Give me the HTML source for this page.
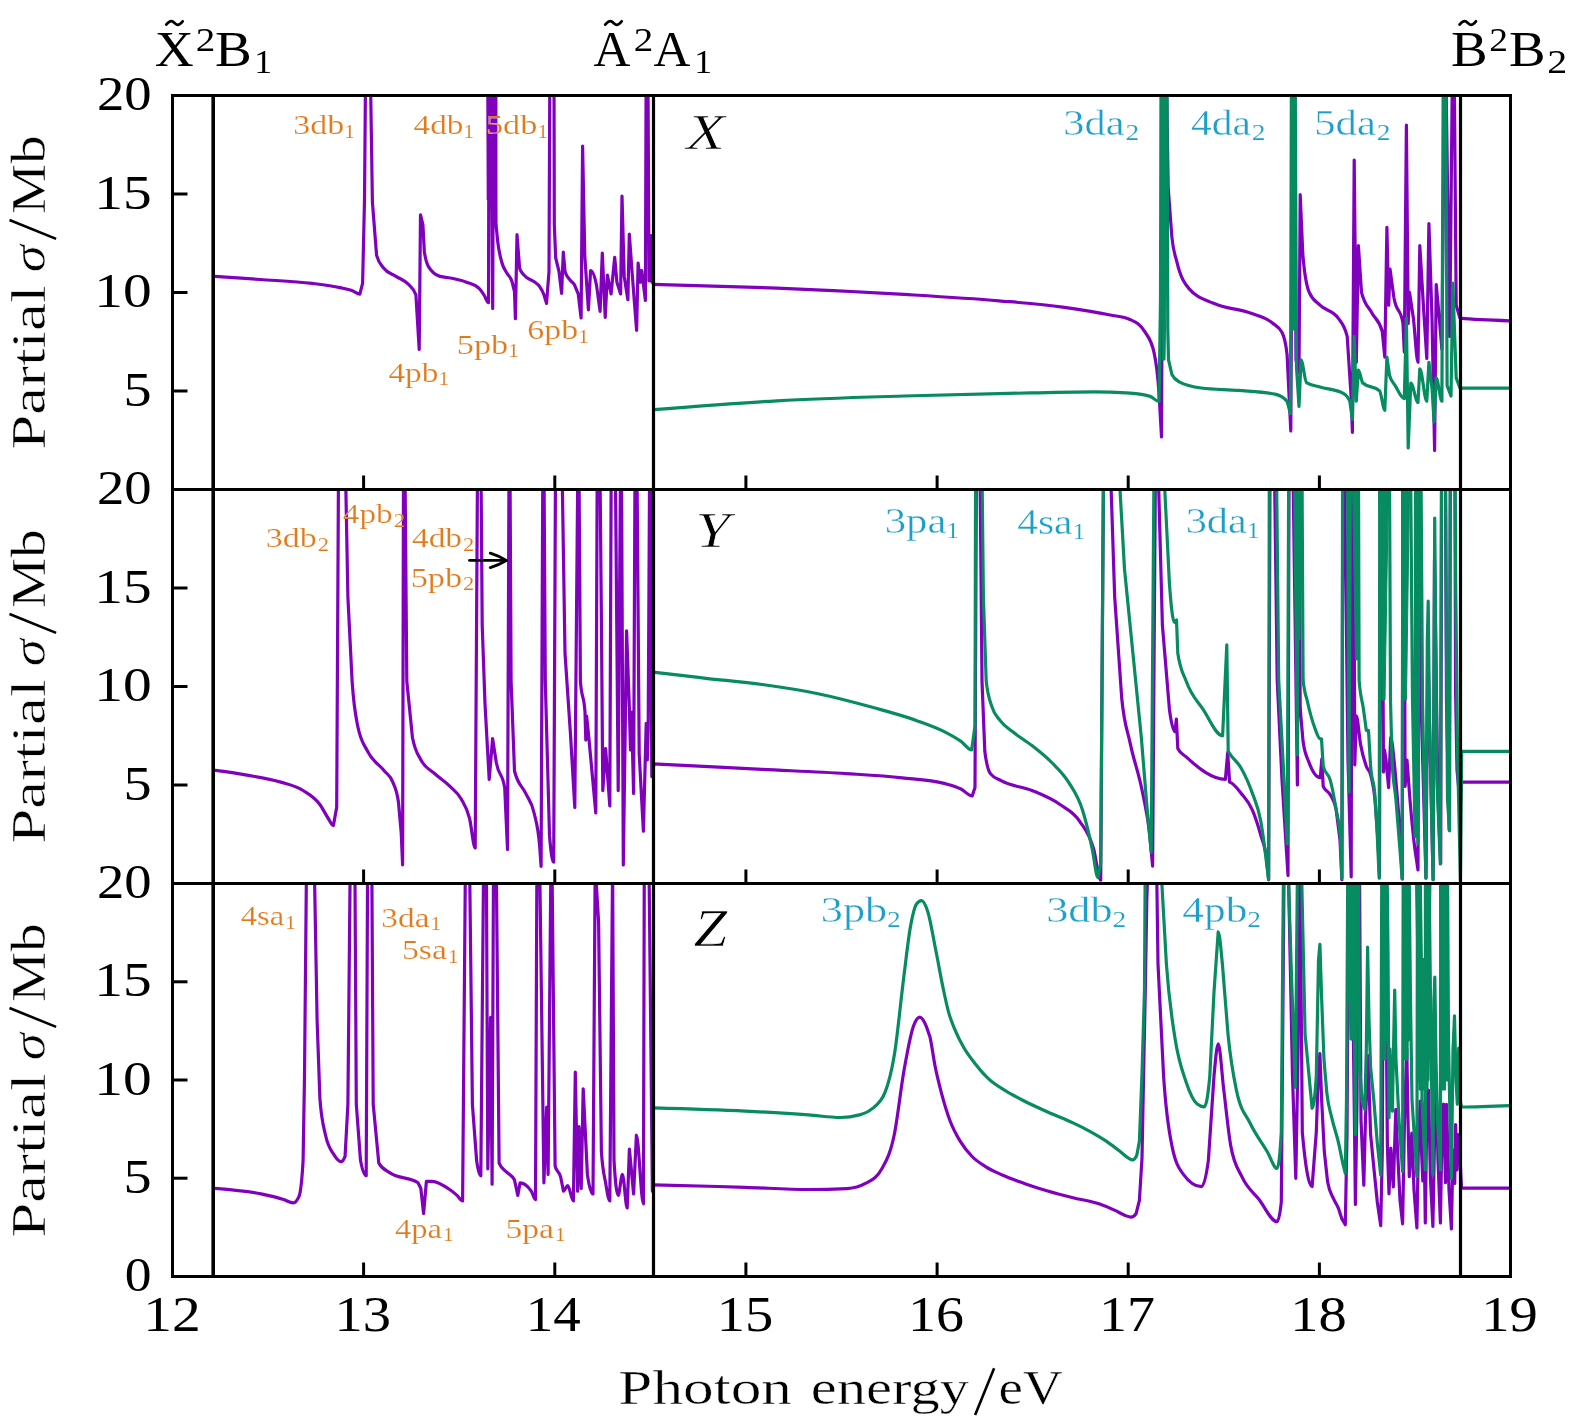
<!DOCTYPE html><html><head><meta charset="utf-8"><style>html,body{margin:0;padding:0;background:#fff;}svg{display:block;}svg{will-change:transform;}</style></head><body>
<svg width="1575" height="1427" viewBox="0 0 1575 1427" font-family="Liberation Serif, serif">
<rect width="1575" height="1427" fill="#fff"/>
<defs>
<clipPath id="c0"><rect x="172.5" y="95.5" width="1338.0" height="394.0"/></clipPath>
<clipPath id="c1"><rect x="172.5" y="489.5" width="1338.0" height="394.0"/></clipPath>
<clipPath id="c2"><rect x="172.5" y="883.5" width="1338.0" height="394.0"/></clipPath>
</defs>
<path d="M215.00 276.40C230.00 277.41 245.00 278.42 260.00 279.50C277.33 280.74 294.67 281.25 312.00 283.40C321.33 284.56 330.67 285.60 340.00 287.60C344.00 288.46 348.00 289.00 352.00 290.50C354.60 291.47 357.20 294.10 359.80 294.10L362.60 283.40L364.50 200.00L365.50 80.00C367.17 80.00 368.83 80.00 370.50 80.00L372.40 202.00L376.60 255.40C378.93 263.80 381.27 264.84 383.60 268.00C387.73 273.60 391.87 273.65 396.00 276.40C400.30 279.26 404.60 279.87 408.90 284.80C411.23 287.47 413.57 288.10 415.90 294.70L419.20 349.30L420.50 214.80L422.90 224.60L424.30 251.20C425.70 261.47 427.10 264.21 428.50 266.60C432.33 273.13 436.17 275.23 440.00 276.40C441.53 276.87 443.07 276.85 444.60 277.10C451.90 278.31 459.20 279.26 466.50 282.20C470.87 283.96 475.23 284.40 479.60 288.80C481.07 290.28 482.53 292.73 484.00 295.00C485.50 297.32 487.00 302.60 488.50 302.60L489.00 80.00L491.00 80.00L492.70 308.50L493.50 80.00L495.50 80.00L496.00 224.50L497.70 241.30C499.13 253.50 500.57 257.76 502.00 263.00C503.67 269.09 505.33 270.10 507.00 273.20C508.67 276.30 510.33 276.18 512.00 281.60L514.50 291.70L515.40 318.60L517.00 234.50L519.60 268.20C521.00 272.67 522.40 273.05 523.80 274.90C527.17 279.35 530.53 278.94 533.90 281.60C535.83 283.13 537.77 283.72 539.70 286.60C541.13 288.73 542.57 290.93 544.00 295.00L546.50 303.40L549.00 271.50L549.80 80.00C551.20 80.00 552.60 80.00 554.00 80.00L554.30 224.50L555.70 258.00L559.00 271.50L561.60 293.40L563.30 252.20L565.00 271.50C566.67 277.17 568.33 277.68 570.00 280.00C571.53 282.13 573.07 282.25 574.60 285.10L578.20 293.90L581.10 318.00L582.60 146.00L584.80 256.00L588.40 310.00L590.60 270.50C592.57 270.50 594.53 275.37 596.50 285.10L600.10 311.40L602.30 253.00L605.20 317.30L607.40 275.00L611.10 293.90L614.70 257.40L616.90 282.20L620.60 293.90L622.00 196.00L624.20 276.40L627.90 299.70L629.30 234.00L632.30 275.00L636.60 330.40L638.10 263.20L640.30 282.20L641.70 270.50L645.40 300.50L646.10 80.00L648.00 80.00L649.00 280.80L651.20 235.50L652.00 282.00L654.00 284.00" fill="none" stroke="#8000BE" stroke-width="3.2" stroke-linejoin="round" stroke-linecap="butt" clip-path="url(#c0)"/>
<polygon points="486.8,93.0 496.9,93.0 496.5,200.0 487.2,200.0" fill="#8000BE" stroke="#8000BE" stroke-width="1" clip-path="url(#c0)"/>
<path d="M653.00 284.30C694.33 285.37 735.67 286.45 777.00 288.10C819.33 289.79 861.67 291.87 904.00 294.40C935.67 296.29 967.33 298.07 999.00 300.80C1020.23 302.63 1041.47 304.18 1062.70 307.10C1078.57 309.28 1094.43 311.67 1110.30 315.00C1116.87 316.38 1123.43 316.50 1130.00 319.50C1135.03 321.80 1140.07 323.70 1145.10 332.10C1148.07 337.05 1151.03 338.83 1154.00 352.30C1155.67 359.87 1157.33 368.61 1159.00 392.70L1161.50 436.80L1163.00 80.00L1166.50 80.00L1168.20 188.10L1171.90 237.10C1173.53 252.94 1175.17 254.74 1176.80 261.60C1180.87 278.69 1184.93 283.74 1189.00 288.60C1197.20 298.40 1205.40 299.49 1213.60 303.30C1225.83 308.99 1238.07 308.45 1250.30 313.10C1257.67 315.90 1265.03 316.88 1272.40 323.00C1275.67 325.71 1278.93 326.27 1282.20 332.80C1283.83 336.07 1285.47 340.13 1287.10 354.80L1290.80 430.90L1292.70 80.00L1294.50 80.00L1296.00 360.00L1299.00 372.50L1300.20 194.70L1302.80 254.00C1304.87 279.20 1306.93 286.76 1309.00 291.80C1312.67 300.73 1316.33 301.43 1320.00 305.20C1326.07 311.44 1332.13 309.53 1338.20 318.20C1341.20 322.49 1344.20 324.27 1347.20 336.40L1351.10 396.00L1352.40 432.30L1354.20 160.00L1356.30 362.30L1358.40 245.60L1361.50 292.30C1364.97 306.10 1368.43 306.49 1371.90 313.00C1375.33 319.45 1378.77 319.07 1382.20 331.20L1384.80 357.10L1386.90 227.40L1388.70 305.20L1390.00 269.00L1393.90 297.50C1396.93 314.77 1399.97 306.13 1403.00 323.40L1404.30 352.00L1406.40 125.00L1408.20 323.40L1409.50 292.30L1413.40 318.20C1414.93 330.46 1416.47 362.30 1418.00 362.30L1419.80 245.60L1423.70 310.40L1426.80 358.40L1428.90 223.60L1432.00 318.20L1434.60 450.50L1436.20 284.50L1439.30 318.20L1441.90 349.30L1444.50 80.00L1446.00 80.00L1449.70 336.40L1452.30 80.00L1454.30 80.00L1456.20 305.20L1460.00 318.20C1476.43 319.93 1492.87 320.37 1509.30 320.80" fill="none" stroke="#8000BE" stroke-width="3.2" stroke-linejoin="round" stroke-linecap="butt" clip-path="url(#c0)"/>
<path d="M653.00 409.70C694.33 406.39 735.67 403.07 777.00 400.80C819.33 398.47 861.67 397.32 904.00 396.00C946.33 394.68 988.67 393.69 1031.00 392.90C1052.13 392.51 1073.27 391.90 1094.40 391.90C1105.00 391.90 1115.60 392.23 1126.20 392.90C1134.20 393.40 1142.20 394.07 1150.20 396.40C1153.13 397.26 1156.07 401.50 1159.00 401.50L1160.50 300.00L1161.00 80.00C1163.00 80.00 1165.00 80.00 1167.00 80.00L1167.80 330.00L1168.50 359.70L1171.90 374.50C1174.33 379.37 1176.77 380.43 1179.20 381.80C1186.57 385.93 1193.93 387.04 1201.30 388.00C1213.57 389.60 1225.83 389.38 1238.10 390.40C1250.37 391.42 1262.63 391.63 1274.90 394.10C1278.97 394.92 1283.03 396.53 1287.10 401.40L1290.50 413.70L1291.40 80.00L1295.20 80.00L1296.50 367.40L1299.00 406.50L1301.00 359.90C1302.83 359.90 1304.67 381.40 1306.50 382.60C1311.00 385.53 1315.50 385.62 1320.00 387.00C1327.77 389.39 1335.53 389.13 1343.30 393.40C1345.47 394.59 1347.63 396.00 1349.80 401.20L1352.40 419.40L1354.20 336.40L1356.30 401.20L1358.40 370.10C1359.87 370.10 1361.33 381.64 1362.80 383.00C1368.40 388.20 1374.00 385.60 1379.60 390.80C1381.33 392.41 1383.07 410.30 1384.80 410.30L1386.90 357.10L1389.50 375.30C1391.40 382.17 1393.30 382.44 1395.20 385.60C1398.23 390.64 1401.27 398.60 1404.30 398.60L1406.40 318.20L1408.20 447.90L1410.80 383.00C1413.20 383.00 1415.60 402.50 1418.00 402.50L1419.80 368.80C1422.13 368.80 1424.47 401.20 1426.80 401.20L1428.90 362.30L1432.00 388.20L1434.10 422.00L1436.20 377.90C1438.10 377.90 1440.00 401.20 1441.90 401.20L1443.20 80.00L1445.80 80.00L1447.10 385.60L1451.00 396.00L1452.80 283.20L1456.20 377.90L1460.00 388.20C1476.43 388.20 1492.87 388.20 1509.30 388.20" fill="none" stroke="#078B61" stroke-width="3.2" stroke-linejoin="round" stroke-linecap="butt" clip-path="url(#c0)"/>
<polygon points="1161.0,93.0 1167.3,93.0 1166.8,250.0 1165.0,360.0 1162.5,360.0 1161.3,250.0" fill="#078B61" stroke="#078B61" stroke-width="1" clip-path="url(#c0)"/>
<polygon points="1290.8,93.0 1296.0,93.0 1295.5,330.0 1291.5,330.0" fill="#078B61" stroke="#078B61" stroke-width="1" clip-path="url(#c0)"/>
<path d="M214.80 770.30C225.53 771.75 236.27 773.19 247.00 775.10C258.23 777.10 269.47 778.64 280.70 782.10C288.17 784.40 295.63 785.74 303.10 790.50C308.70 794.07 314.30 796.72 319.90 804.50C322.70 808.39 325.50 814.35 328.30 818.50C330.00 821.02 331.70 825.50 333.40 825.50L336.70 807.30L338.50 470.00C340.83 470.00 343.17 470.00 345.50 470.00L347.90 597.10L352.10 681.20C353.97 708.96 355.83 716.46 357.70 726.00C361.00 742.87 364.30 744.57 367.60 751.30C373.20 762.73 378.80 763.74 384.40 770.90C387.20 774.48 390.00 774.73 392.80 782.10C394.67 787.02 396.53 788.63 398.40 801.70L401.20 832.50L402.60 864.80L403.50 470.00L405.00 470.00L406.80 681.20L412.40 737.20C415.20 752.20 418.00 754.10 420.80 759.70C425.47 769.03 430.13 769.40 434.80 773.70C439.87 778.37 444.93 781.32 450.00 786.40C453.73 790.14 457.47 792.22 461.20 799.00C464.00 804.08 466.80 807.17 469.60 818.60C471.47 826.22 473.33 848.00 475.20 848.00L477.50 470.00L481.00 470.00L482.20 625.20L485.00 703.70L489.20 779.40L492.60 738.70L496.30 762.50C499.10 777.58 501.90 770.93 504.70 787.80L507.50 849.50L509.00 470.00L510.00 470.00L511.10 681.20L514.50 771.00C518.23 785.93 521.97 785.22 525.70 793.40C528.50 799.53 531.30 800.31 534.10 813.00C535.97 821.46 537.83 824.20 539.70 846.60L541.10 866.30L542.80 470.00L544.00 470.00L545.30 681.20L549.50 835.40C550.90 853.20 552.30 862.10 553.70 862.10L555.50 470.00C557.70 470.00 559.90 470.00 562.10 470.00L565.00 653.20L570.50 734.50L574.80 807.40L577.80 470.00L579.00 470.00L580.40 681.20C581.93 701.73 583.47 691.47 585.00 712.00L585.80 740.00L586.60 716.00L588.80 737.30L595.80 813.00L597.20 470.00L600.00 470.00L601.40 619.60L602.80 790.60L605.60 748.50L609.80 806.00L611.20 470.00C612.60 470.00 614.00 470.00 615.40 470.00L618.20 790.60L620.50 470.00L621.50 470.00L623.30 864.90L626.60 630.80L629.40 709.30L630.50 750.00L631.50 712.00L633.60 793.40L635.00 470.00L637.00 470.00L639.20 754.10L643.40 831.20L646.20 723.30L647.30 760.00L648.20 728.00L649.60 470.00L650.50 470.00L651.80 776.60L654.00 764.00" fill="none" stroke="#8000BE" stroke-width="3.2" stroke-linejoin="round" stroke-linecap="butt" clip-path="url(#c1)"/>
<path d="M653.00 763.80C689.37 765.68 725.73 767.56 762.10 769.40C790.10 770.82 818.10 771.78 846.10 773.60C864.80 774.81 883.50 775.77 902.20 777.80C916.20 779.32 930.20 779.67 944.20 783.40C949.80 784.89 955.40 786.15 961.00 789.00C964.73 790.90 968.47 796.00 972.20 796.00L975.00 787.60L976.40 470.00L980.00 470.00L982.00 681.10L984.80 751.20C986.67 766.13 988.53 771.15 990.40 773.60C994.00 778.33 997.60 778.65 1001.20 780.70C1011.47 786.55 1021.73 786.26 1032.00 790.50C1041.33 794.36 1050.67 797.90 1060.00 804.50C1066.57 809.14 1073.13 811.30 1079.70 821.30C1084.37 828.41 1089.03 832.46 1093.70 849.30C1096.03 857.72 1098.37 880.20 1100.70 880.20L1103.50 470.00C1105.83 470.00 1108.17 470.00 1110.50 470.00L1114.70 597.10L1121.70 698.00C1124.50 726.80 1127.30 729.35 1130.10 742.80C1134.30 762.97 1138.50 771.34 1142.70 793.30C1145.07 805.67 1147.43 812.61 1149.80 835.30L1152.60 866.20L1155.40 470.00L1158.20 470.00L1162.40 625.10L1169.40 709.20C1171.27 723.32 1173.13 731.60 1175.00 731.60L1176.40 719.00L1177.80 748.50C1180.60 754.10 1183.40 754.31 1186.20 756.90C1199.27 768.98 1212.33 779.30 1225.40 779.30L1227.70 752.70L1229.60 782.10L1230.00 782.20C1233.73 783.23 1237.47 788.73 1241.20 793.40C1244.93 798.07 1248.67 801.40 1252.40 810.20C1255.20 816.80 1258.00 825.29 1260.80 835.40C1262.67 842.14 1264.53 842.90 1266.40 857.90L1268.60 879.70L1270.00 470.00C1271.50 470.00 1273.00 470.00 1274.50 470.00L1277.20 680.00L1282.00 780.00L1288.00 875.40L1289.00 470.00C1290.33 470.00 1291.67 470.00 1293.00 470.00L1297.40 784.90L1298.50 470.00L1299.50 600.00L1300.20 708.70L1303.10 741.80C1305.00 755.20 1306.90 756.68 1308.80 761.90C1312.63 772.43 1316.47 777.70 1320.30 777.70L1321.80 759.00L1323.20 786.30C1325.60 792.03 1328.00 790.25 1330.40 794.90C1332.30 798.58 1334.20 799.70 1336.10 809.30L1340.00 840.00L1341.90 879.70L1342.80 470.00L1344.50 470.00L1348.00 760.00L1351.20 876.80L1352.00 470.00L1353.50 470.00L1354.80 764.80L1356.30 715.90C1357.73 715.90 1359.17 736.81 1360.60 744.60C1362.50 754.92 1364.40 760.94 1366.30 766.20C1367.73 770.17 1369.17 769.29 1370.60 774.80C1372.07 780.44 1373.53 784.97 1375.00 800.00L1378.00 840.00L1379.50 877.00L1380.50 470.00L1382.00 470.00L1383.50 772.00L1384.50 750.00L1386.00 760.00L1388.60 787.70L1390.70 737.50C1392.13 737.50 1393.57 756.22 1395.00 770.00L1400.00 830.00L1402.20 879.00L1403.00 470.00L1404.00 470.00L1405.10 786.30L1407.00 760.00L1410.00 800.00C1411.67 820.14 1413.33 836.81 1415.00 850.00L1418.00 870.00L1419.00 470.00L1421.00 700.00L1426.00 878.00L1427.80 640.00L1429.00 700.00L1433.10 879.70L1434.50 560.00L1438.00 800.00L1440.70 863.50L1441.60 470.00L1445.40 470.00L1446.50 700.00L1449.10 829.80L1450.40 470.00C1451.90 470.00 1453.40 470.00 1454.90 470.00L1455.60 692.50L1457.00 770.00L1460.30 804.60L1461.70 782.20C1477.60 782.20 1493.50 782.20 1509.40 782.20" fill="none" stroke="#8000BE" stroke-width="3.2" stroke-linejoin="round" stroke-linecap="butt" clip-path="url(#c1)"/>
<path d="M653.00 672.20C670.67 674.25 688.33 676.31 706.00 678.30C724.70 680.41 743.40 681.93 762.10 684.50C780.77 687.07 799.43 689.82 818.10 693.70C836.80 697.59 855.50 702.58 874.20 707.80C888.20 711.71 902.20 715.36 916.20 720.40C925.53 723.76 934.87 726.80 944.20 731.60C949.80 734.48 955.40 737.44 961.00 741.40C964.57 743.92 968.13 749.80 971.70 749.80L975.00 726.00L975.60 470.00C977.73 470.00 979.87 470.00 982.00 470.00L983.40 597.00L986.20 681.10C988.07 697.97 989.93 700.10 991.80 706.40C994.53 715.63 997.27 716.61 1000.00 720.40C1004.13 726.13 1008.27 728.17 1012.40 731.60C1018.93 737.02 1025.47 740.47 1032.00 745.60C1038.57 750.76 1045.13 755.77 1051.70 762.50C1057.30 768.24 1062.90 773.02 1068.50 782.10C1073.17 789.67 1077.83 795.28 1082.50 810.10C1085.77 820.48 1089.03 834.12 1092.30 849.30C1094.17 857.98 1096.03 877.40 1097.90 877.40L1100.70 863.40L1103.50 470.00L1105.00 470.00C1109.63 470.00 1114.27 470.00 1118.90 470.00L1124.50 569.10L1132.90 653.20L1141.30 737.20L1147.00 807.30L1151.20 852.20L1154.00 470.00C1157.27 470.00 1160.53 470.00 1163.80 470.00L1169.40 583.10C1171.07 605.88 1172.73 622.30 1174.40 622.30L1176.50 620.00L1177.80 653.20C1180.60 671.87 1183.40 673.42 1186.20 681.20C1191.80 696.76 1197.40 700.67 1203.00 709.20C1209.53 719.16 1216.07 735.80 1222.60 735.80L1226.80 644.80L1228.20 751.30L1230.00 754.10C1233.73 759.75 1237.47 761.65 1241.20 768.20C1244.93 774.75 1248.67 782.69 1252.40 793.40C1255.20 801.43 1258.00 805.58 1260.80 821.40C1262.20 829.31 1263.60 839.38 1265.00 850.00L1268.60 879.70L1269.30 470.00C1271.70 470.00 1274.10 470.00 1276.50 470.00L1278.70 680.00L1283.00 760.00L1287.30 843.80L1288.70 470.00C1290.63 470.00 1292.57 470.00 1294.50 470.00L1297.40 754.70L1298.20 470.00L1302.00 470.00L1303.10 680.00C1304.53 694.33 1305.97 695.09 1307.40 701.50C1309.80 712.24 1312.20 720.88 1314.60 727.40C1316.50 732.56 1318.40 738.90 1320.30 738.90L1321.50 738.90L1323.20 766.20C1325.60 775.80 1328.00 771.73 1330.40 780.60C1332.30 787.62 1334.20 797.96 1336.10 809.30C1337.53 817.86 1338.97 818.87 1340.40 838.00L1341.90 878.20L1342.60 470.00C1344.23 470.00 1345.87 470.00 1347.50 470.00L1349.00 792.00L1350.40 470.00C1353.10 470.00 1355.80 470.00 1358.50 470.00L1359.10 680.00C1360.53 699.13 1361.97 698.47 1363.40 708.70L1366.30 730.30L1368.50 730.30L1370.60 766.20C1372.03 785.40 1373.47 775.80 1374.90 795.00L1377.00 830.00L1379.20 878.20L1379.80 470.00C1383.03 470.00 1386.27 470.00 1389.50 470.00L1390.50 700.00L1392.00 760.00C1393.33 786.67 1394.67 785.00 1396.00 800.00L1400.00 850.00L1402.20 879.00L1402.80 470.00C1405.40 470.00 1408.00 470.00 1410.60 470.00L1412.50 700.00L1415.10 836.60L1415.80 470.00L1416.50 470.00L1418.00 843.80L1419.00 470.00L1421.00 470.00L1422.50 700.00L1425.90 878.20L1427.30 640.00L1428.20 601.00L1429.50 720.00L1433.10 879.70L1434.70 518.00L1437.00 780.00L1440.30 863.90L1441.50 470.00C1442.83 470.00 1444.17 470.00 1445.50 470.00L1446.50 650.00L1447.50 800.00L1449.60 830.80L1450.30 470.00C1451.87 470.00 1453.43 470.00 1455.00 470.00L1455.80 595.00L1457.50 750.00L1460.40 880.00L1461.70 751.30C1477.60 751.30 1493.50 751.30 1509.40 751.30" fill="none" stroke="#078B61" stroke-width="3.2" stroke-linejoin="round" stroke-linecap="butt" clip-path="url(#c1)"/>
<polygon points="1295.5,487.0 1301.5,487.0 1300.0,640.0 1298.0,640.0" fill="#078B61" stroke="#078B61" stroke-width="1" clip-path="url(#c1)"/>
<polygon points="1352.5,487.0 1359.5,487.0 1357.5,660.0 1355.5,660.0" fill="#078B61" stroke="#078B61" stroke-width="1" clip-path="url(#c1)"/>
<polygon points="1378.5,487.0 1388.5,487.0 1385.0,700.0 1382.0,700.0" fill="#078B61" stroke="#078B61" stroke-width="1" clip-path="url(#c1)"/>
<polygon points="1401.5,487.0 1409.5,487.0 1406.5,700.0 1404.0,700.0" fill="#078B61" stroke="#078B61" stroke-width="1" clip-path="url(#c1)"/>
<polygon points="1414.5,487.0 1419.5,487.0 1417.8,660.0 1416.2,660.0" fill="#078B61" stroke="#078B61" stroke-width="1" clip-path="url(#c1)"/>
<path d="M214.80 1188.30C230.23 1189.50 245.67 1190.69 261.10 1193.90C268.57 1195.45 276.03 1197.13 283.50 1199.50C286.77 1200.54 290.03 1202.90 293.30 1202.90C295.17 1202.90 297.03 1200.83 298.90 1196.70C300.30 1193.60 301.70 1184.57 303.10 1160.30L304.50 1076.20L306.50 865.00C309.10 865.00 311.70 865.00 314.30 865.00L317.10 1020.10L319.90 1098.60C321.77 1122.87 323.63 1126.24 325.50 1135.00C328.30 1148.13 331.10 1150.19 333.90 1154.70C336.23 1158.46 338.57 1161.70 340.90 1161.70C342.30 1161.70 343.70 1159.83 345.10 1156.10L347.90 1104.20L350.20 865.00C351.77 865.00 353.33 865.00 354.90 865.00L356.30 1104.20L360.50 1160.30C362.40 1170.57 364.30 1175.70 366.20 1175.70L367.60 865.00C369.00 865.00 370.40 865.00 371.80 865.00L373.20 1104.20L378.80 1163.10C382.53 1169.63 386.27 1170.29 390.00 1172.90C399.33 1179.43 408.67 1176.17 418.00 1182.70L420.80 1188.30L423.60 1213.50L426.40 1181.30C428.27 1181.30 430.13 1181.30 432.00 1181.30C438.00 1181.30 444.00 1185.55 450.00 1189.80C452.33 1191.45 454.67 1193.27 457.00 1195.40C458.87 1197.10 460.73 1201.00 462.60 1201.00L465.40 865.00C466.80 865.00 468.20 865.00 469.60 865.00L472.40 1104.30L476.60 1160.30C478.00 1170.63 479.40 1175.80 480.80 1175.80L483.60 865.00L486.40 865.00L487.80 1168.80L490.60 1017.40L492.10 1184.20L493.50 865.00L496.30 865.00L499.10 1163.20C501.43 1168.80 503.77 1169.01 506.10 1171.60C508.90 1174.71 511.70 1174.40 514.50 1180.00L517.80 1195.40L520.10 1182.80C523.83 1182.80 527.57 1185.60 531.30 1191.20C532.70 1193.30 534.10 1199.60 535.50 1199.60L536.90 865.00L539.70 865.00L543.90 1182.80L546.70 1107.10L548.10 1174.40L550.90 865.00L552.00 865.00L555.10 1166.00C556.97 1173.47 558.83 1169.73 560.70 1177.20L563.50 1191.20C564.90 1191.20 566.30 1185.60 567.70 1185.60C569.60 1185.60 571.50 1201.00 573.40 1201.00L575.30 1072.00L577.60 1191.20L579.00 1126.70L581.20 1188.40L583.20 1088.90L587.40 1174.40C589.27 1187.47 591.13 1194.00 593.00 1194.00L595.20 865.00L598.60 922.00L601.40 1151.90C602.80 1172.50 604.20 1174.62 605.60 1182.80C607.00 1190.98 608.40 1201.00 609.80 1201.00L612.60 865.00L614.00 1160.30C615.40 1183.70 616.80 1195.40 618.20 1195.40C619.60 1195.40 621.00 1174.40 622.40 1174.40C624.00 1174.40 625.60 1208.00 627.20 1208.00L629.40 1149.10L633.60 1194.00L636.40 1135.10C638.73 1135.10 641.07 1203.80 643.40 1203.80L644.30 865.00C645.87 865.00 647.43 865.00 649.00 865.00L652.40 1191.20L654.00 1184.50" fill="none" stroke="#8000BE" stroke-width="3.2" stroke-linejoin="round" stroke-linecap="butt" clip-path="url(#c2)"/>
<path d="M653.00 1184.80C683.73 1185.56 714.47 1186.33 745.20 1187.30C766.37 1187.97 787.53 1189.50 808.70 1189.50C821.40 1189.50 834.10 1189.20 846.80 1188.60C853.17 1188.30 859.53 1186.80 865.90 1183.20C871.17 1180.22 876.43 1178.43 881.70 1168.90C885.93 1161.24 890.17 1154.96 894.40 1134.00C897.60 1118.16 900.80 1088.56 904.00 1070.50C907.17 1052.63 910.33 1034.60 913.50 1026.00C915.60 1020.29 917.70 1017.10 919.80 1017.10C921.93 1017.10 924.07 1020.98 926.20 1026.00L930.00 1037.10C931.67 1043.98 933.33 1057.24 935.00 1065.70C937.27 1077.21 939.53 1085.78 941.80 1094.30C944.60 1104.82 947.40 1113.76 950.20 1121.20C953.57 1130.14 956.93 1135.79 960.30 1141.40C964.23 1147.96 968.17 1152.44 972.10 1156.50C976.57 1161.12 981.03 1163.74 985.50 1166.60C991.10 1170.19 996.70 1172.48 1002.30 1175.00C1009.60 1178.28 1016.90 1180.81 1024.20 1183.40C1032.03 1186.18 1039.87 1188.69 1047.70 1191.00C1056.13 1193.49 1064.57 1195.60 1073.00 1197.70C1081.40 1199.80 1089.80 1200.77 1098.20 1203.60C1103.80 1205.48 1109.40 1207.82 1115.00 1210.40C1118.37 1211.95 1121.73 1214.17 1125.10 1215.40C1127.07 1216.12 1129.03 1217.10 1131.00 1217.10C1132.70 1217.10 1134.40 1215.97 1136.10 1213.70L1139.40 1200.30L1142.00 1158.20L1143.60 1074.10L1145.30 990.00L1146.80 900.00L1148.00 865.00C1150.87 865.00 1153.73 865.00 1156.60 865.00L1158.00 964.00L1163.60 1076.10C1166.40 1119.06 1169.20 1132.10 1172.00 1146.10C1175.73 1164.77 1179.47 1168.93 1183.20 1174.10C1189.27 1182.50 1195.33 1186.70 1201.40 1186.70C1203.73 1186.70 1206.07 1177.83 1208.40 1160.10L1214.00 1076.10C1215.40 1060.97 1216.80 1043.90 1218.20 1043.90C1220.07 1043.90 1221.93 1074.91 1223.80 1090.10C1226.13 1109.09 1228.47 1133.27 1230.80 1146.10C1234.53 1166.63 1238.27 1168.75 1242.00 1176.90C1247.63 1189.19 1253.27 1192.09 1258.90 1199.30C1264.97 1207.06 1271.03 1221.70 1277.10 1221.70C1278.50 1221.70 1279.90 1215.17 1281.30 1202.10L1284.10 865.00C1285.50 865.00 1286.90 865.00 1288.30 865.00L1292.50 1076.10L1295.80 1178.30L1298.10 1048.10L1299.00 865.00L1300.00 865.00L1302.30 1132.10C1305.57 1168.50 1308.83 1186.70 1312.10 1186.70L1316.30 1132.10L1318.50 1070.00L1319.90 1053.70L1321.70 1101.00L1324.30 1151.50L1327.60 1181.80C1329.57 1193.07 1331.53 1194.00 1333.50 1198.70C1335.20 1202.76 1336.90 1204.32 1338.60 1208.80L1341.90 1218.90L1345.30 1224.70L1347.00 1134.70L1348.70 865.00L1351.20 865.00L1354.60 1134.70L1355.40 1204.50L1357.00 1100.00L1358.00 865.00L1359.50 865.00L1361.00 1120.00L1363.80 1185.20L1365.50 1117.80L1368.00 1055.60L1370.60 1134.70L1373.90 1168.40L1377.30 1202.00L1380.70 1225.60L1382.30 1151.50L1383.50 865.00L1385.00 865.00L1387.40 1146.50L1389.00 1193.60L1390.80 1148.10L1393.30 1186.90L1395.80 1109.40L1398.00 1160.00L1400.00 1200.00L1402.60 1223.80L1404.50 1120.00L1406.80 1048.80L1408.00 1120.00L1409.30 1176.70L1411.80 1133.00L1414.00 1190.00L1416.90 1228.00L1418.50 1140.00L1420.20 1101.00L1421.50 1150.00L1422.80 1180.90L1423.80 1120.00L1425.30 1223.00L1427.00 1100.00L1428.50 1090.00L1430.50 1180.00L1432.90 1226.30L1434.50 1140.00L1436.20 1087.50L1438.00 1160.00L1440.40 1223.00L1442.00 1130.00L1443.50 1104.00L1445.50 1182.60L1446.50 1104.30L1449.00 1190.00L1451.40 1228.80L1453.00 1150.00L1454.70 1183.40L1455.60 1124.50L1457.00 1170.00L1458.00 1134.60L1460.10 1160.00L1461.50 1188.20C1477.67 1188.20 1493.83 1188.20 1510.00 1188.20" fill="none" stroke="#8000BE" stroke-width="3.2" stroke-linejoin="round" stroke-linecap="butt" clip-path="url(#c2)"/>
<path d="M653.00 1107.90C683.73 1108.74 714.47 1109.58 745.20 1111.10C766.37 1112.15 787.53 1113.32 808.70 1114.90C819.30 1115.69 829.90 1117.50 840.50 1117.50C846.83 1117.50 853.17 1116.63 859.50 1114.90C863.73 1113.74 867.97 1112.30 872.20 1108.60C876.43 1104.90 880.67 1103.30 884.90 1092.70C888.07 1084.77 891.23 1074.01 894.40 1054.60C897.60 1034.99 900.80 1000.28 904.00 975.20C906.10 958.74 908.20 939.47 910.30 927.60C912.43 915.54 914.57 906.70 916.70 903.80C918.27 901.67 919.83 900.60 921.40 900.60C923.53 900.60 925.67 905.05 927.80 911.70C930.43 919.91 933.07 936.66 935.70 949.80C938.30 962.77 940.90 977.83 943.50 990.00C945.17 997.80 946.83 1005.75 948.50 1011.90C950.73 1020.14 952.97 1024.99 955.20 1030.40C958.00 1037.19 960.80 1042.27 963.60 1047.20C967.53 1054.12 971.47 1058.95 975.40 1064.00C979.90 1069.78 984.40 1074.99 988.90 1079.20C994.50 1084.43 1000.10 1087.40 1005.70 1090.90C1011.87 1094.75 1018.03 1097.84 1024.20 1101.00C1032.03 1105.01 1039.87 1108.47 1047.70 1112.00C1056.13 1115.80 1064.57 1118.92 1073.00 1122.90C1078.60 1125.55 1084.20 1128.22 1089.80 1131.30C1095.40 1134.38 1101.00 1137.58 1106.60 1141.40C1111.10 1144.47 1115.60 1148.00 1120.10 1151.50C1122.90 1153.68 1125.70 1156.70 1128.50 1158.20C1129.90 1158.95 1131.30 1159.90 1132.70 1159.90C1134.10 1159.90 1135.50 1158.20 1136.90 1154.80L1139.40 1141.40L1142.00 1074.10L1144.50 990.00L1145.20 865.00C1150.40 865.00 1155.60 865.00 1160.80 865.00L1166.40 964.00C1169.20 1003.42 1172.00 1018.21 1174.80 1036.90C1178.53 1061.81 1182.27 1070.50 1186.00 1081.70C1189.73 1092.90 1193.47 1101.11 1197.20 1104.10C1199.53 1105.97 1201.87 1106.90 1204.20 1106.90C1206.07 1106.90 1207.93 1096.63 1209.80 1076.10L1214.00 992.00L1218.20 931.80C1219.60 931.80 1221.00 950.36 1222.40 964.00L1228.00 1034.10C1230.80 1062.60 1233.60 1076.66 1236.40 1090.10C1241.07 1112.50 1245.73 1114.07 1250.40 1123.70C1256.03 1135.32 1261.67 1142.16 1267.30 1151.70C1270.57 1157.23 1273.83 1168.50 1277.10 1168.50C1278.50 1168.50 1279.90 1156.37 1281.30 1132.10L1283.50 865.00C1285.00 865.00 1286.50 865.00 1288.00 865.00L1291.10 964.00L1295.30 1087.30L1297.50 865.00L1301.40 865.00L1305.10 1034.10L1312.10 1108.30C1313.50 1108.30 1314.90 1097.57 1316.30 1076.10L1318.50 960.00L1319.90 944.40L1321.70 1000.00L1324.00 1060.00L1326.80 1092.60C1328.47 1108.05 1330.13 1110.33 1331.80 1117.80C1334.07 1127.96 1336.33 1133.14 1338.60 1143.10C1340.00 1149.25 1341.40 1157.24 1342.80 1163.30L1345.30 1173.40L1346.50 1100.00L1347.80 865.00L1349.50 1000.00L1350.50 865.00L1352.00 1030.00L1353.00 865.00L1355.40 1134.70L1356.30 865.00L1358.50 865.00L1359.60 1067.30L1362.10 1101.00L1364.70 1109.40L1366.30 1050.50L1367.60 947.20L1369.00 1020.00L1370.60 1067.30L1373.90 1101.00L1377.30 1143.10L1380.70 1175.10L1381.80 865.00L1383.50 1040.00L1384.50 865.00L1386.00 1040.00L1387.00 865.00L1388.00 950.00L1389.00 1117.80L1389.90 1048.80L1392.40 1111.10L1393.50 1050.00L1394.70 990.00L1396.00 1060.00L1399.00 1120.00L1402.60 1171.60L1403.20 865.00L1405.00 1040.00L1406.00 865.00L1408.00 1040.00L1409.00 865.00L1410.50 1000.00L1412.00 1100.00L1416.90 1176.70L1417.50 865.00L1419.00 1080.00L1420.00 865.00L1421.30 958.00L1422.00 1100.00L1425.30 1170.00L1425.80 865.00L1428.00 1080.00L1429.00 865.00L1430.50 1000.00L1432.90 1175.00L1434.00 1000.00L1434.80 977.00L1436.00 1060.00L1437.50 1120.00L1440.40 1170.00L1440.80 865.00L1443.00 1080.00L1444.00 865.00L1446.50 1080.00L1447.50 865.00L1448.50 1040.00L1450.00 1120.00L1451.40 1178.40L1453.00 1050.00L1454.50 1015.90L1456.00 1080.00L1457.30 1104.20L1458.70 1048.10L1460.00 1100.00L1461.50 1107.00C1477.83 1107.00 1494.17 1106.30 1510.50 1105.60" fill="none" stroke="#078B61" stroke-width="3.2" stroke-linejoin="round" stroke-linecap="butt" clip-path="url(#c2)"/>
<polygon points="1347.0,881.0 1360.0,881.0 1357.0,1040.0 1350.0,1040.0" fill="#078B61" stroke="#078B61" stroke-width="1" clip-path="url(#c2)"/>
<polygon points="1381.3,881.0 1387.8,881.0 1386.0,1060.0 1383.0,1060.0" fill="#078B61" stroke="#078B61" stroke-width="1" clip-path="url(#c2)"/>
<polygon points="1402.4,881.0 1410.1,881.0 1408.0,1060.0 1404.5,1060.0" fill="#078B61" stroke="#078B61" stroke-width="1" clip-path="url(#c2)"/>
<polygon points="1415.5,881.0 1421.3,881.0 1421.3,958.6 1424.3,958.6 1424.3,881.0 1431.0,881.0 1428.0,1090.0 1419.0,1090.0" fill="#078B61" stroke="#078B61" stroke-width="1" clip-path="url(#c2)"/>
<polygon points="1439.4,881.0 1447.9,881.0 1445.5,1090.0 1441.5,1090.0" fill="#078B61" stroke="#078B61" stroke-width="1" clip-path="url(#c2)"/>
<line x1="213.2" y1="95.5" x2="213.2" y2="1276.5" stroke="#000" stroke-width="3.6"/>
<line x1="653.5" y1="95.5" x2="653.5" y2="1276.5" stroke="#000" stroke-width="3.2"/>
<line x1="1460.5" y1="95.5" x2="1460.5" y2="1276.5" stroke="#000" stroke-width="3.2"/>
<rect x="172.5" y="95.5" width="1338.0" height="1181.0" fill="none" stroke="#000" stroke-width="3"/>
<line x1="171.0" y1="489.5" x2="1512.0" y2="489.5" stroke="#000" stroke-width="3.2"/>
<line x1="171.0" y1="883.5" x2="1512.0" y2="883.5" stroke="#000" stroke-width="3.2"/>
<line x1="363.6" y1="489.5" x2="363.6" y2="475.5" stroke="#000" stroke-width="3"/>
<line x1="554.8" y1="489.5" x2="554.8" y2="475.5" stroke="#000" stroke-width="3"/>
<line x1="745.9" y1="489.5" x2="745.9" y2="475.5" stroke="#000" stroke-width="3"/>
<line x1="937.1" y1="489.5" x2="937.1" y2="475.5" stroke="#000" stroke-width="3"/>
<line x1="1128.2" y1="489.5" x2="1128.2" y2="475.5" stroke="#000" stroke-width="3"/>
<line x1="1319.4" y1="489.5" x2="1319.4" y2="475.5" stroke="#000" stroke-width="3"/>
<line x1="172.5" y1="391.0" x2="187.5" y2="391.0" stroke="#000" stroke-width="3"/>
<line x1="172.5" y1="292.5" x2="187.5" y2="292.5" stroke="#000" stroke-width="3"/>
<line x1="172.5" y1="194.0" x2="187.5" y2="194.0" stroke="#000" stroke-width="3"/>
<line x1="363.6" y1="883.5" x2="363.6" y2="869.5" stroke="#000" stroke-width="3"/>
<line x1="554.8" y1="883.5" x2="554.8" y2="869.5" stroke="#000" stroke-width="3"/>
<line x1="745.9" y1="883.5" x2="745.9" y2="869.5" stroke="#000" stroke-width="3"/>
<line x1="937.1" y1="883.5" x2="937.1" y2="869.5" stroke="#000" stroke-width="3"/>
<line x1="1128.2" y1="883.5" x2="1128.2" y2="869.5" stroke="#000" stroke-width="3"/>
<line x1="1319.4" y1="883.5" x2="1319.4" y2="869.5" stroke="#000" stroke-width="3"/>
<line x1="172.5" y1="785.0" x2="187.5" y2="785.0" stroke="#000" stroke-width="3"/>
<line x1="172.5" y1="686.5" x2="187.5" y2="686.5" stroke="#000" stroke-width="3"/>
<line x1="172.5" y1="588.0" x2="187.5" y2="588.0" stroke="#000" stroke-width="3"/>
<line x1="363.6" y1="1276.5" x2="363.6" y2="1262.5" stroke="#000" stroke-width="3"/>
<line x1="554.8" y1="1276.5" x2="554.8" y2="1262.5" stroke="#000" stroke-width="3"/>
<line x1="745.9" y1="1276.5" x2="745.9" y2="1262.5" stroke="#000" stroke-width="3"/>
<line x1="937.1" y1="1276.5" x2="937.1" y2="1262.5" stroke="#000" stroke-width="3"/>
<line x1="1128.2" y1="1276.5" x2="1128.2" y2="1262.5" stroke="#000" stroke-width="3"/>
<line x1="1319.4" y1="1276.5" x2="1319.4" y2="1262.5" stroke="#000" stroke-width="3"/>
<line x1="172.5" y1="1178.2" x2="187.5" y2="1178.2" stroke="#000" stroke-width="3"/>
<line x1="172.5" y1="1080.0" x2="187.5" y2="1080.0" stroke="#000" stroke-width="3"/>
<line x1="172.5" y1="981.8" x2="187.5" y2="981.8" stroke="#000" stroke-width="3"/>
<text transform="translate(97.04,110.00) scale(1.1449,1)" font-size="47.73" fill="#000">20</text>
<text transform="translate(94.33,208.50) scale(1.2042,1)" font-size="47.73" fill="#000">15</text>
<text transform="translate(94.33,307.00) scale(1.2042,1)" font-size="47.73" fill="#000">10</text>
<text transform="translate(123.62,405.50) scale(1.1786,1)" font-size="47.73" fill="#000">5</text>
<text transform="translate(97.04,504.00) scale(1.1449,1)" font-size="47.73" fill="#000">20</text>
<text transform="translate(94.33,602.50) scale(1.2042,1)" font-size="47.73" fill="#000">15</text>
<text transform="translate(94.33,701.00) scale(1.2042,1)" font-size="47.73" fill="#000">10</text>
<text transform="translate(123.62,799.50) scale(1.1786,1)" font-size="47.73" fill="#000">5</text>
<text transform="translate(97.04,898.00) scale(1.1449,1)" font-size="47.73" fill="#000">20</text>
<text transform="translate(94.33,996.25) scale(1.2042,1)" font-size="47.73" fill="#000">15</text>
<text transform="translate(94.33,1094.50) scale(1.2042,1)" font-size="47.73" fill="#000">10</text>
<text transform="translate(123.62,1192.75) scale(1.1786,1)" font-size="47.73" fill="#000">5</text>
<text transform="translate(124.86,1291.00) scale(1.1224,1)" font-size="47.73" fill="#000">0</text>
<text transform="translate(143.22,1331.20) scale(1.1491,1)" font-size="50.08" fill="#000">12</text>
<text transform="translate(334.45,1331.20) scale(1.1293,1)" font-size="50.08" fill="#000">13</text>
<text transform="translate(525.74,1331.20) scale(1.0978,1)" font-size="50.08" fill="#000">14</text>
<text transform="translate(716.74,1331.20) scale(1.1293,1)" font-size="50.08" fill="#000">15</text>
<text transform="translate(907.94,1331.20) scale(1.1165,1)" font-size="50.08" fill="#000">16</text>
<text transform="translate(1099.08,1331.20) scale(1.1165,1)" font-size="50.08" fill="#000">17</text>
<text transform="translate(1290.17,1331.20) scale(1.1293,1)" font-size="50.08" fill="#000">18</text>
<text transform="translate(1481.31,1331.20) scale(1.1293,1)" font-size="50.08" fill="#000">19</text>
<text transform="translate(618.36,1404.40) scale(1.2501,1)" font-size="49.00" stroke="#fff" stroke-width="0.50">Photon</text>
<text transform="translate(810.66,1404.40) scale(1.1961,1)" font-size="49.00" stroke="#fff" stroke-width="0.50">energy</text>
<text transform="translate(998.50,1404.40) scale(1.1220,1)" font-size="49.00" stroke="#fff" stroke-width="0.50">eV</text>
<line x1="994.1" y1="1368.3" x2="975.1" y2="1414.9" stroke="#000" stroke-width="2.6"/>
<text transform="translate(44.80,449.58) rotate(-90) scale(1.2819,1)" font-size="49.00" stroke="#fff" stroke-width="0.50">Partial</text>
<text transform="translate(44.80,272.14) rotate(-90) scale(1.1173,1)" font-size="49.00" font-style="italic" stroke="#fff" stroke-width="0.50">&#963;</text>
<line x1="56.1" y1="238.9" x2="9.5" y2="220.0" stroke="#000" stroke-width="2.6"/>
<text transform="translate(44.80,214.21) rotate(-90) scale(1.1611,1)" font-size="49.00" stroke="#fff" stroke-width="0.50">Mb</text>
<text transform="translate(44.80,843.58) rotate(-90) scale(1.2819,1)" font-size="49.00" stroke="#fff" stroke-width="0.50">Partial</text>
<text transform="translate(44.80,666.14) rotate(-90) scale(1.1173,1)" font-size="49.00" font-style="italic" stroke="#fff" stroke-width="0.50">&#963;</text>
<line x1="56.1" y1="632.9" x2="9.5" y2="614.0" stroke="#000" stroke-width="2.6"/>
<text transform="translate(44.80,608.21) rotate(-90) scale(1.1611,1)" font-size="49.00" stroke="#fff" stroke-width="0.50">Mb</text>
<text transform="translate(44.80,1237.58) rotate(-90) scale(1.2819,1)" font-size="49.00" stroke="#fff" stroke-width="0.50">Partial</text>
<text transform="translate(44.80,1060.14) rotate(-90) scale(1.1173,1)" font-size="49.00" font-style="italic" stroke="#fff" stroke-width="0.50">&#963;</text>
<line x1="56.1" y1="1026.9" x2="9.5" y2="1008.0" stroke="#000" stroke-width="2.6"/>
<text transform="translate(44.80,1002.21) rotate(-90) scale(1.1611,1)" font-size="49.00" stroke="#fff" stroke-width="0.50">Mb</text>
<text transform="translate(154.72,66.00) scale(1.0639,1)" font-size="50.77" fill="#000">X</text>
<text transform="translate(195.65,50.80) scale(1.1543,1)" font-size="33.79" fill="#000">2</text>
<text transform="translate(215.05,66.00) scale(1.0933,1)" font-size="50.38" fill="#000">B</text>
<text transform="translate(254.29,72.80) scale(1.0397,1)" font-size="34.35" fill="#000">1</text>
<text transform="translate(593.49,66.00) scale(1.0135,1)" font-size="50.38" fill="#000">A</text>
<text transform="translate(633.64,50.80) scale(1.1543,1)" font-size="33.79" fill="#000">2</text>
<text transform="translate(653.49,66.00) scale(1.0135,1)" font-size="50.38" fill="#000">A</text>
<text transform="translate(694.29,72.80) scale(1.0397,1)" font-size="34.35" fill="#000">1</text>
<text transform="translate(1450.95,66.00) scale(1.0900,1)" font-size="50.38" fill="#000">B</text>
<text transform="translate(1489.31,50.80) scale(1.1099,1)" font-size="33.79" fill="#000">2</text>
<text transform="translate(1509.06,66.00) scale(1.0866,1)" font-size="50.38" fill="#000">B</text>
<text transform="translate(1547.20,72.80) scale(1.1733,1)" font-size="34.09" fill="#000">2</text>
<path d="M166.2 24.6 C168.0 22.5 169.5 21.1 171.3 21.1 C174.0 21.1 175.5 24.9 177.6 24.9 C179.5 24.9 181.3 23.0 182.7 21.3" fill="none" stroke="#000" stroke-width="2.7" stroke-linecap="round"/>
<path d="M605.2 24.6 C607.0 22.5 608.5 21.1 610.3 21.1 C613.0 21.1 614.5 24.9 616.6 24.9 C618.5 24.9 620.3 23.0 621.7 21.3" fill="none" stroke="#000" stroke-width="2.7" stroke-linecap="round"/>
<path d="M1459.5 24.6 C1461.3 22.5 1462.8 21.1 1464.6 21.1 C1467.3 21.1 1468.8 24.9 1470.9 24.9 C1472.8 24.9 1474.6 23.0 1476.0 21.3" fill="none" stroke="#000" stroke-width="2.7" stroke-linecap="round"/>
<text transform="translate(686.22,148.90) scale(1.2489,1)" font-size="50.77" fill="#000" font-style="italic" stroke="#fff" stroke-width="0.70">X</text>
<text transform="translate(695.26,546.60) scale(1.2070,1)" font-size="51.69" fill="#000" font-style="italic" stroke="#fff" stroke-width="0.70">Y</text>
<text transform="translate(693.49,945.70) scale(1.1610,1)" font-size="52.31" fill="#000" font-style="italic" stroke="#fff" stroke-width="0.70">Z</text>
<text transform="translate(293.20,134.30) scale(1.2118,1)" font-size="28.09" fill="#E37A1A" stroke="#fff" stroke-width="0.20">3db</text>
<text transform="translate(344.30,138.10) scale(1.0819,1)" font-size="19.54" fill="#E37A1A" stroke="#fff" stroke-width="0.10">1</text>
<text transform="translate(413.53,134.30) scale(1.1866,1)" font-size="28.09" fill="#E37A1A" stroke="#fff" stroke-width="0.20">4db</text>
<text transform="translate(463.60,138.10) scale(1.0819,1)" font-size="19.54" fill="#E37A1A" stroke="#fff" stroke-width="0.10">1</text>
<text transform="translate(485.94,134.30) scale(1.2205,1)" font-size="28.09" fill="#E37A1A" stroke="#fff" stroke-width="0.20">5db</text>
<text transform="translate(537.40,138.10) scale(1.0819,1)" font-size="19.54" fill="#E37A1A" stroke="#fff" stroke-width="0.10">1</text>
<text transform="translate(388.43,381.50) scale(1.1866,1)" font-size="28.09" fill="#E37A1A" stroke="#fff" stroke-width="0.20">4pb</text>
<text transform="translate(438.50,385.30) scale(1.0819,1)" font-size="19.54" fill="#E37A1A" stroke="#fff" stroke-width="0.10">1</text>
<text transform="translate(456.84,353.50) scale(1.2205,1)" font-size="28.09" fill="#E37A1A" stroke="#fff" stroke-width="0.20">5pb</text>
<text transform="translate(508.30,357.30) scale(1.0819,1)" font-size="19.54" fill="#E37A1A" stroke="#fff" stroke-width="0.10">1</text>
<text transform="translate(527.27,338.90) scale(1.2076,1)" font-size="28.09" fill="#E37A1A" stroke="#fff" stroke-width="0.20">6pb</text>
<text transform="translate(578.20,342.70) scale(1.0819,1)" font-size="19.54" fill="#E37A1A" stroke="#fff" stroke-width="0.10">1</text>
<text transform="translate(265.70,547.00) scale(1.2118,1)" font-size="28.09" fill="#E37A1A" stroke="#fff" stroke-width="0.20">3db</text>
<text transform="translate(317.69,550.80) scale(1.1514,1)" font-size="19.54" fill="#E37A1A" stroke="#fff" stroke-width="0.10">2</text>
<text transform="translate(342.73,523.10) scale(1.1866,1)" font-size="28.09" fill="#E37A1A" stroke="#fff" stroke-width="0.20">4pb</text>
<text transform="translate(393.69,526.90) scale(1.1514,1)" font-size="19.54" fill="#E37A1A" stroke="#fff" stroke-width="0.10">2</text>
<text transform="translate(412.03,547.00) scale(1.1866,1)" font-size="28.09" fill="#E37A1A" stroke="#fff" stroke-width="0.20">4db</text>
<text transform="translate(462.99,550.80) scale(1.1514,1)" font-size="19.54" fill="#E37A1A" stroke="#fff" stroke-width="0.10">2</text>
<text transform="translate(410.64,586.60) scale(1.2205,1)" font-size="28.09" fill="#E37A1A" stroke="#fff" stroke-width="0.20">5pb</text>
<text transform="translate(462.99,590.40) scale(1.1514,1)" font-size="19.54" fill="#E37A1A" stroke="#fff" stroke-width="0.10">2</text>
<text transform="translate(240.75,925.00) scale(1.1638,1)" font-size="28.09" fill="#E37A1A" stroke="#fff" stroke-width="0.20">4sa</text>
<text transform="translate(285.30,928.80) scale(1.0819,1)" font-size="19.54" fill="#E37A1A" stroke="#fff" stroke-width="0.10">1</text>
<text transform="translate(381.33,926.50) scale(1.1866,1)" font-size="28.09" fill="#E37A1A" stroke="#fff" stroke-width="0.20">3da</text>
<text transform="translate(430.40,930.30) scale(1.0819,1)" font-size="19.54" fill="#E37A1A" stroke="#fff" stroke-width="0.10">1</text>
<text transform="translate(401.98,958.70) scale(1.2007,1)" font-size="28.09" fill="#E37A1A" stroke="#fff" stroke-width="0.20">5sa</text>
<text transform="translate(447.90,962.50) scale(1.0819,1)" font-size="19.54" fill="#E37A1A" stroke="#fff" stroke-width="0.10">1</text>
<text transform="translate(394.95,1237.50) scale(1.1613,1)" font-size="28.09" fill="#E37A1A" stroke="#fff" stroke-width="0.20">4pa</text>
<text transform="translate(443.00,1241.30) scale(1.0819,1)" font-size="19.54" fill="#E37A1A" stroke="#fff" stroke-width="0.10">1</text>
<text transform="translate(505.49,1237.60) scale(1.1953,1)" font-size="28.09" fill="#E37A1A" stroke="#fff" stroke-width="0.20">5pa</text>
<text transform="translate(554.90,1241.40) scale(1.0819,1)" font-size="19.54" fill="#E37A1A" stroke="#fff" stroke-width="0.10">1</text>
<text transform="translate(1063.28,135.20) scale(1.1917,1)" font-size="35.57" fill="#1C9FC8" stroke="#fff" stroke-width="0.35">3da</text>
<text transform="translate(1125.46,140.20) scale(1.1400,1)" font-size="24.12" fill="#1C9FC8" stroke="#fff" stroke-width="0.20">2</text>
<text transform="translate(1190.97,134.90) scale(1.1663,1)" font-size="35.57" fill="#1C9FC8" stroke="#fff" stroke-width="0.35">4da</text>
<text transform="translate(1251.86,139.90) scale(1.1400,1)" font-size="24.12" fill="#1C9FC8" stroke="#fff" stroke-width="0.20">2</text>
<text transform="translate(1314.24,135.10) scale(1.2004,1)" font-size="35.57" fill="#1C9FC8" stroke="#fff" stroke-width="0.35">5da</text>
<text transform="translate(1376.86,140.10) scale(1.1400,1)" font-size="24.12" fill="#1C9FC8" stroke="#fff" stroke-width="0.20">2</text>
<text transform="translate(884.66,532.80) scale(1.2019,1)" font-size="35.57" fill="#1C9FC8" stroke="#fff" stroke-width="0.35">3pa</text>
<text transform="translate(946.29,537.80) scale(1.0660,1)" font-size="24.12" fill="#1C9FC8" stroke="#fff" stroke-width="0.20">1</text>
<text transform="translate(1017.17,534.20) scale(1.1677,1)" font-size="35.57" fill="#1C9FC8" stroke="#fff" stroke-width="0.35">4sa</text>
<text transform="translate(1072.49,539.20) scale(1.0660,1)" font-size="24.12" fill="#1C9FC8" stroke="#fff" stroke-width="0.20">1</text>
<text transform="translate(1185.68,533.20) scale(1.1917,1)" font-size="35.57" fill="#1C9FC8" stroke="#fff" stroke-width="0.35">3da</text>
<text transform="translate(1246.79,538.20) scale(1.0660,1)" font-size="24.12" fill="#1C9FC8" stroke="#fff" stroke-width="0.20">1</text>
<text transform="translate(820.78,921.50) scale(1.2461,1)" font-size="35.57" fill="#1C9FC8" stroke="#fff" stroke-width="0.35">3pb</text>
<text transform="translate(887.06,926.50) scale(1.1400,1)" font-size="24.12" fill="#1C9FC8" stroke="#fff" stroke-width="0.20">2</text>
<text transform="translate(1046.18,921.50) scale(1.2461,1)" font-size="35.57" fill="#1C9FC8" stroke="#fff" stroke-width="0.35">3db</text>
<text transform="translate(1112.46,926.50) scale(1.1400,1)" font-size="24.12" fill="#1C9FC8" stroke="#fff" stroke-width="0.20">2</text>
<text transform="translate(1182.33,922.20) scale(1.2201,1)" font-size="35.57" fill="#1C9FC8" stroke="#fff" stroke-width="0.35">4pb</text>
<text transform="translate(1247.26,927.20) scale(1.1400,1)" font-size="24.12" fill="#1C9FC8" stroke="#fff" stroke-width="0.20">2</text>
<path d="M469.6 560.4 H504" stroke="#000" stroke-width="2.9" fill="none" stroke-linecap="round"/>
<path d="M490.3 553.2 Q498.5 555.8 506.3 560.4 Q498.5 565 490.3 567.6" stroke="#000" stroke-width="2.9" fill="none" stroke-linecap="round" stroke-linejoin="round"/>
</svg></body></html>
